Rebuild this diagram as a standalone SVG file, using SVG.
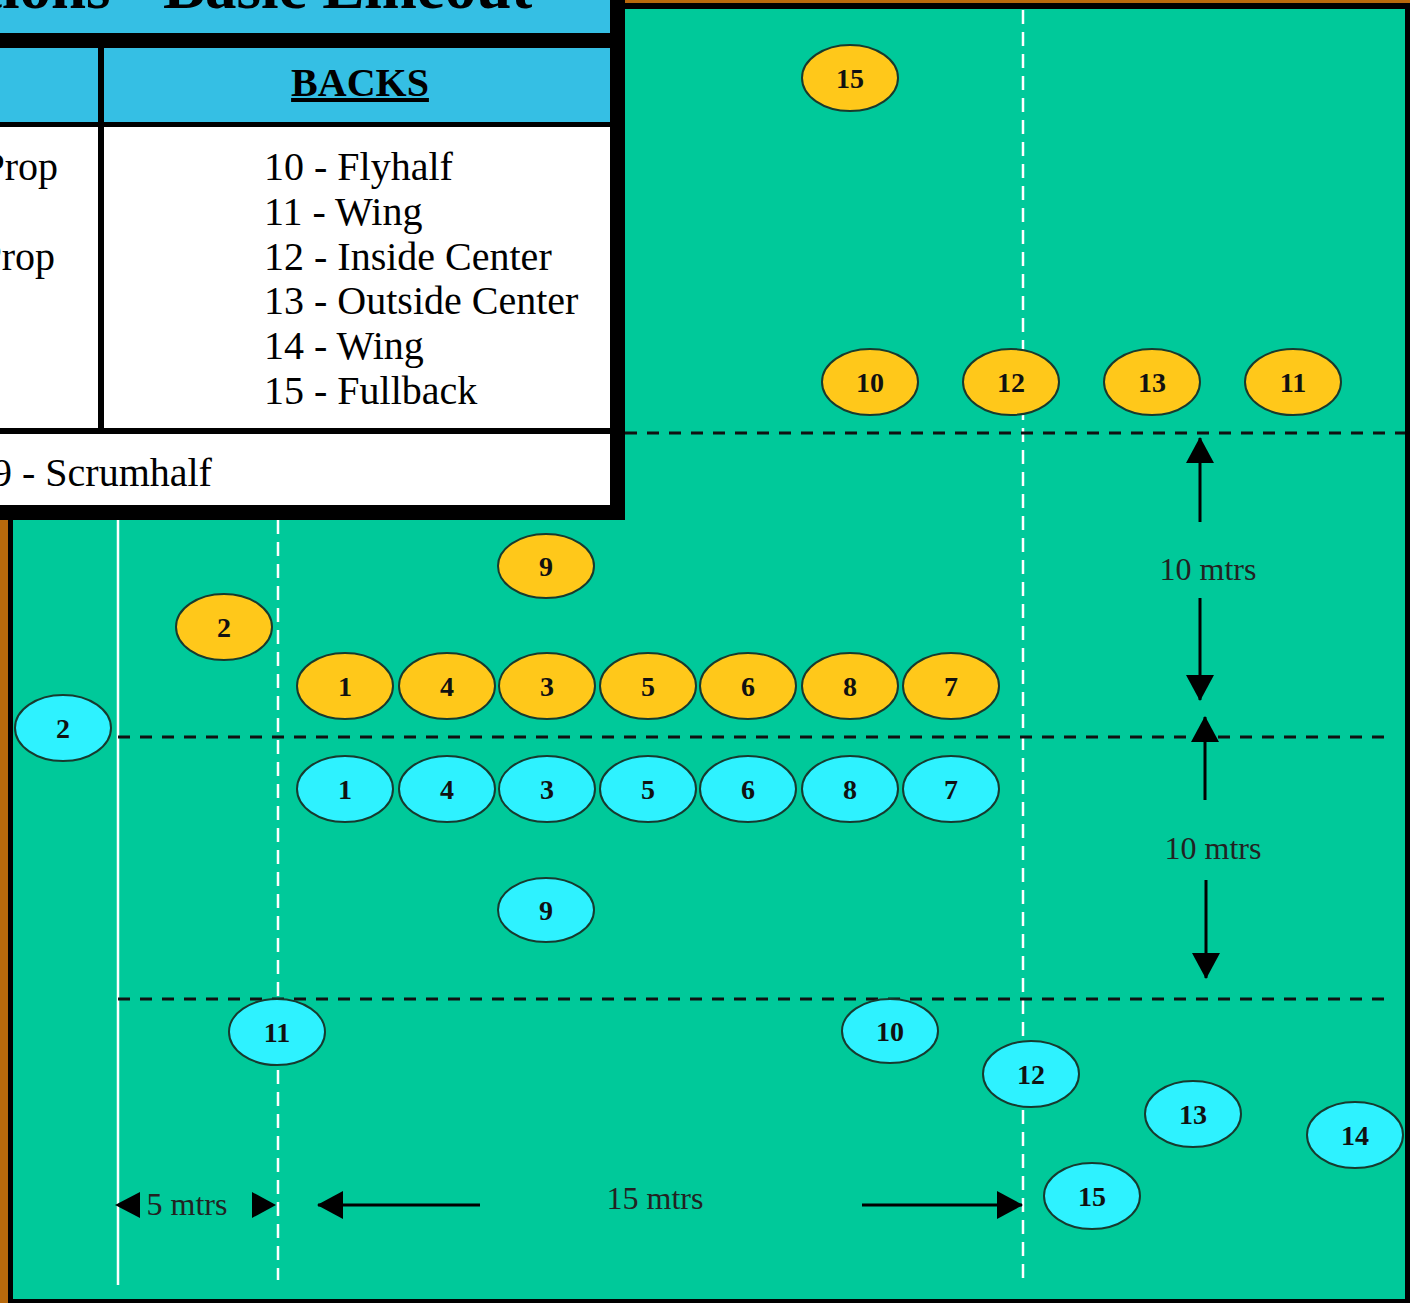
<svg xmlns="http://www.w3.org/2000/svg" width="1410" height="1303" viewBox="0 0 1410 1303">
<style>
.p{stroke:#173a2e;stroke-width:2}
.y{fill:#FFC81A}
.c{fill:#2EF2FF}
.n{font-family:"Liberation Serif",serif;font-weight:bold;font-size:28px;fill:#111;text-anchor:middle}
.t{font-family:"Liberation Serif",serif;font-size:40px;fill:#000}
.m{font-family:"Liberation Serif",serif;font-size:32px;fill:#222}
.bd{stroke:#111;stroke-width:3;stroke-dasharray:12 10;fill:none}
.wd{stroke:#fff;stroke-width:2.5;stroke-dasharray:14 8;fill:none}
.ar{stroke:#000;stroke-width:3;fill:none}
</style>
<defs>
<marker id="ah" markerUnits="userSpaceOnUse" markerWidth="26" markerHeight="28" viewBox="0 0 26 28" refX="25" refY="14" orient="auto">
<path d="M0,0 L26,14 L0,28 z" fill="#000"/>
</marker>
</defs>
<!-- background & frame -->
<rect x="0" y="0" width="1410" height="1303" fill="#000"/>
<rect x="0" y="0" width="8" height="1303" fill="#B8690C"/>
<rect x="0" y="0" width="1410" height="3" fill="#B8690C"/>
<rect x="13" y="9" width="1392" height="1290" fill="#00C99A"/>

<!-- field lines -->
<g id="connectors">
<line x1="118" y1="520" x2="118" y2="1285" stroke="#fff" stroke-width="2.5"/>
<line class="wd" x1="278" y1="520" x2="278" y2="1280"/>
<line class="wd" x1="1023" y1="10" x2="1023" y2="1280"/>
<line class="bd" x1="625" y1="433" x2="1405" y2="433"/>
<line class="bd" x1="118" y1="737" x2="1385" y2="737"/>
<line class="bd" x1="118" y1="999" x2="1385" y2="999"/>
<line class="ar" x1="1200" y1="522" x2="1200" y2="438" marker-end="url(#ah)"/>
<line class="ar" x1="1200" y1="598" x2="1200" y2="700" marker-end="url(#ah)"/>
<line class="ar" x1="1205" y1="800" x2="1205" y2="717" marker-end="url(#ah)"/>
<line class="ar" x1="1206" y1="880" x2="1206" y2="978" marker-end="url(#ah)"/>
<line class="ar" x1="480" y1="1205" x2="318" y2="1205" marker-end="url(#ah)"/>
<line class="ar" x1="862" y1="1205" x2="1022" y2="1205" marker-end="url(#ah)"/>
<polygon points="115,1205 140,1192 140,1218" fill="#000"/>
<polygon points="276,1205 252,1192 252,1218" fill="#000"/>
</g>
<g id="labels">
<text class="m" x="1208" y="580" text-anchor="middle">10 mtrs</text>
<text class="m" x="1213" y="859" text-anchor="middle">10 mtrs</text>
<text class="m" x="655" y="1209" text-anchor="middle">15 mtrs</text>
<text class="m" x="187" y="1215" text-anchor="middle">5 mtrs</text>
</g>

<!-- yellow team -->
<g id="y15"><ellipse class="p y" cx="850" cy="78" rx="48" ry="33"/><text class="n" x="850" y="88">15</text></g>
<g id="y10"><ellipse class="p y" cx="870" cy="382" rx="48" ry="33"/><text class="n" x="870" y="392">10</text></g>
<g id="y12"><ellipse class="p y" cx="1011" cy="382" rx="48" ry="33"/><text class="n" x="1011" y="392">12</text></g>
<g id="y13"><ellipse class="p y" cx="1152" cy="382" rx="48" ry="33"/><text class="n" x="1152" y="392">13</text></g>
<g id="y11"><ellipse class="p y" cx="1293" cy="382" rx="48" ry="33"/><text class="n" x="1293" y="392">11</text></g>
<g id="y9"><ellipse class="p y" cx="546" cy="566" rx="48" ry="32"/><text class="n" x="546" y="576">9</text></g>
<g id="y2"><ellipse class="p y" cx="224" cy="627" rx="48" ry="33"/><text class="n" x="224" y="637">2</text></g>
<g id="y1"><ellipse class="p y" cx="345" cy="686" rx="48" ry="33"/><text class="n" x="345" y="696">1</text></g>
<g id="y4"><ellipse class="p y" cx="447" cy="686" rx="48" ry="33"/><text class="n" x="447" y="696">4</text></g>
<g id="y3"><ellipse class="p y" cx="547" cy="686" rx="48" ry="33"/><text class="n" x="547" y="696">3</text></g>
<g id="y5"><ellipse class="p y" cx="648" cy="686" rx="48" ry="33"/><text class="n" x="648" y="696">5</text></g>
<g id="y6"><ellipse class="p y" cx="748" cy="686" rx="48" ry="33"/><text class="n" x="748" y="696">6</text></g>
<g id="y8"><ellipse class="p y" cx="850" cy="686" rx="48" ry="33"/><text class="n" x="850" y="696">8</text></g>
<g id="y7"><ellipse class="p y" cx="951" cy="686" rx="48" ry="33"/><text class="n" x="951" y="696">7</text></g>

<!-- cyan team -->
<g id="c2"><ellipse class="p c" cx="63" cy="728" rx="48" ry="33"/><text class="n" x="63" y="738">2</text></g>
<g id="c1"><ellipse class="p c" cx="345" cy="789" rx="48" ry="33"/><text class="n" x="345" y="799">1</text></g>
<g id="c4"><ellipse class="p c" cx="447" cy="789" rx="48" ry="33"/><text class="n" x="447" y="799">4</text></g>
<g id="c3"><ellipse class="p c" cx="547" cy="789" rx="48" ry="33"/><text class="n" x="547" y="799">3</text></g>
<g id="c5"><ellipse class="p c" cx="648" cy="789" rx="48" ry="33"/><text class="n" x="648" y="799">5</text></g>
<g id="c6"><ellipse class="p c" cx="748" cy="789" rx="48" ry="33"/><text class="n" x="748" y="799">6</text></g>
<g id="c8"><ellipse class="p c" cx="850" cy="789" rx="48" ry="33"/><text class="n" x="850" y="799">8</text></g>
<g id="c7"><ellipse class="p c" cx="951" cy="789" rx="48" ry="33"/><text class="n" x="951" y="799">7</text></g>
<g id="c9"><ellipse class="p c" cx="546" cy="910" rx="48" ry="32"/><text class="n" x="546" y="920">9</text></g>
<g id="c11"><ellipse class="p c" cx="277" cy="1032" rx="48" ry="33"/><text class="n" x="277" y="1042">11</text></g>
<g id="c10"><ellipse class="p c" cx="890" cy="1031" rx="48" ry="32"/><text class="n" x="890" y="1041">10</text></g>
<g id="c12"><ellipse class="p c" cx="1031" cy="1074" rx="48" ry="33"/><text class="n" x="1031" y="1084">12</text></g>
<g id="c13"><ellipse class="p c" cx="1193" cy="1114" rx="48" ry="33"/><text class="n" x="1193" y="1124">13</text></g>
<g id="c14"><ellipse class="p c" cx="1355" cy="1135" rx="48" ry="33"/><text class="n" x="1355" y="1145">14</text></g>
<g id="c15"><ellipse class="p c" cx="1092" cy="1196" rx="48" ry="33"/><text class="n" x="1092" y="1206">15</text></g>

<!-- legend table -->
<g id="legend">
<rect x="0" y="0" width="625" height="520" fill="#000"/>
<rect x="0" y="0" width="610" height="33" fill="#35BFE4"/>
<rect x="0" y="48" width="98" height="74" fill="#35BFE4"/>
<rect x="104" y="48" width="506" height="74" fill="#35BFE4"/>
<rect x="0" y="127" width="98" height="301" fill="#fff"/>
<rect x="104" y="127" width="506" height="301" fill="#fff"/>
<rect x="0" y="434" width="610" height="71" fill="#fff"/>
<text x="-131" y="8" font-family="Liberation Serif,serif" font-weight="bold" font-size="63" fill="#000">Positions - Basic Lineout</text>
<text x="360" y="96" font-family="Liberation Serif,serif" font-weight="bold" font-size="40" text-anchor="middle" text-decoration="underline" fill="#000">BACKS</text>
<text class="t" x="58" y="180" text-anchor="end">Prop</text>
<text class="t" x="55" y="270" text-anchor="end">Prop</text>
<text class="t" x="264" y="180">10 - Flyhalf</text>
<text class="t" x="264" y="225">11 - Wing</text>
<text class="t" x="264" y="270">12 - Inside Center</text>
<text class="t" x="264" y="314">13 - Outside Center</text>
<text class="t" x="264" y="359">14 - Wing</text>
<text class="t" x="264" y="404">15 - Fullback</text>
<text class="t" x="-8" y="486">9 - Scrumhalf</text>
</g>
</svg>
